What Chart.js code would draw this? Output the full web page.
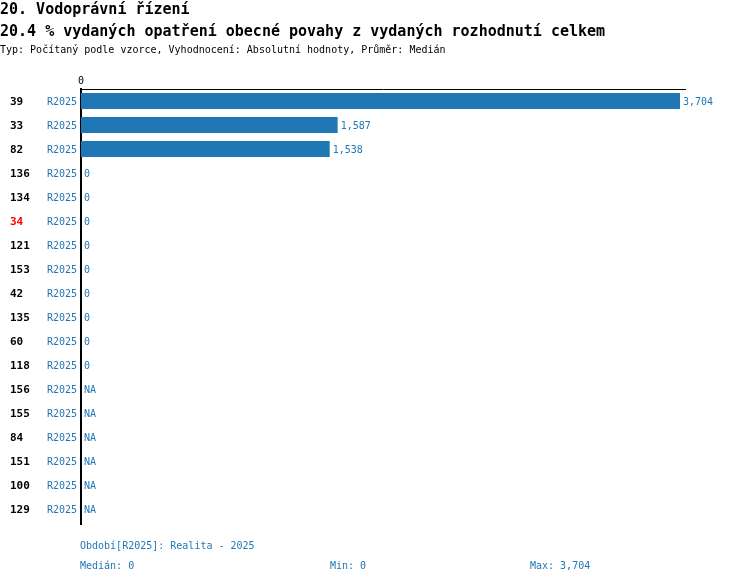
<!DOCTYPE html>
<html>
<head>
<meta charset="utf-8">
<script src="https://cdn.jsdelivr.net/npm/chart.js@4.4.1/dist/chart.umd.min.js"></script>
<style>
  body { margin: 0; background: #fff; font-family: "DejaVu Sans Mono", monospace; }
  #wrap { position: relative; width: 750px; height: 584px; overflow: hidden; }
  canvas { position: absolute; left: 0; top: 0; }
  .txt { position: absolute; white-space: pre; line-height: 16px; }
  .t1 { font-size: 15px; font-weight: bold; color: #000; }
  .t2 { font-size: 10px; color: #000; }
  .ft { font-size: 10px; color: #1f77b4; }
</style>
</head>
<body>
<div id="wrap">
  <canvas id="grafico" width="750" height="584"></canvas>
  <div class="txt t1" style="left:0;top:1px">20. Vodoprávní řízení</div>
  <div class="txt t1" style="left:0;top:23px">20.4 % vydaných opatření obecné povahy z vydaných rozhodnutí celkem</div>
  <div class="txt t2" style="left:0;top:42px">Typ: Počítaný podle vzorce, Vyhodnocení: Absolutní hodnoty, Průměr: Medián</div>
  <div class="txt ft" style="left:80px;top:538px">Období[R2025]: Realita - 2025</div>
  <div class="txt ft" style="left:80px;top:558px">Medián: 0</div>
  <div class="txt ft" style="left:330px;top:558px">Min: 0</div>
  <div class="txt ft" style="left:530px;top:558px">Max: 3,704</div>
</div>
<script>
// Datos del gráfico
const idsFila   = ['39', '33', '82', '136', '134', '34', '121', '153', '42', '135', '60', '118', '156', '155', '84', '151', '100', '129'];
const periodos  = ['R2025', 'R2025', 'R2025', 'R2025', 'R2025', 'R2025', 'R2025', 'R2025', 'R2025', 'R2025', 'R2025', 'R2025', 'R2025', 'R2025', 'R2025', 'R2025', 'R2025', 'R2025'];
const valores   = [3704, 1587, 1538, 0, 0, 0, 0, 0, 0, 0, 0, 0, null, null, null, null, null, null];
const idResaltado = '34';
const ticksX    = [0];
const maxX      = 3735;

const AZUL = '#1f77b4';
const FUENTE = '"DejaVu Sans Mono", monospace';

// Etiquetas de fila (id) y de valor al final de cada barra
const pluginEtiquetas = {
    id: 'etiquetas',
    afterDatasetsDraw(chart) {
        const ctx = chart.ctx;
        const meta = chart.getDatasetMeta(0);
        const escalaY = chart.scales.y;
        const area = chart.chartArea;
        ctx.save();

        // prolongar un poco el eje vertical hacia abajo
        ctx.strokeStyle = '#000';
        ctx.lineWidth = 2;
        ctx.beginPath();
        ctx.moveTo(area.left, area.bottom);
        ctx.lineTo(area.left, area.bottom + 4);
        ctx.stroke();

        ctx.textBaseline = 'middle';

        // ids de fila a la izquierda
        ctx.font = 'bold 11px ' + FUENTE;
        ctx.textAlign = 'left';
        idsFila.forEach((id, i) => {
            ctx.fillStyle = id === idResaltado ? '#ff0000' : '#000000';
            ctx.fillText(id, 10, escalaY.getPixelForValue(i) + 1);
        });

        // valores
        ctx.font = '10px ' + FUENTE;
        ctx.fillStyle = AZUL;
        meta.data.forEach((barra, i) => {
            const v = valores[i];
            const y = escalaY.getPixelForValue(i) + 1;
            if (v === null) {
                ctx.fillText('NA', chart.scales.x.getPixelForValue(0) + 3, y);
            } else {
                ctx.fillText(v.toLocaleString('en-US'), barra.x + 3, y);
            }
        });
        ctx.restore();
    }
};

const ctx = document.getElementById('grafico').getContext('2d');
new Chart(ctx, {
    type: 'bar',
    data: {
        labels: periodos,
        datasets: [{
            data: valores,
            backgroundColor: AZUL,
            borderWidth: 0,
            categoryPercentage: 1,
            barPercentage: 0.667
        }]
    },
    options: {
        indexAxis: 'y',
        responsive: false,
        animation: false,
        devicePixelRatio: 1,
        layout: { padding: { top: 70, right: 65, bottom: 63, left: 0 } },
        plugins: {
            legend: { display: false },
            tooltip: { enabled: false }
        },
        scales: {
            x: {
                position: 'top',
                min: 0,
                max: maxX,
                afterBuildTicks: s => { s.ticks = ticksX.map(v => ({ value: v })); },
                afterFit: s => { s.height = 19; },
                grid: { display: false, drawTicks: false },
                border: { display: true, color: '#000', width: 1 },
                ticks: { color: '#000', padding: 2, font: { family: FUENTE, size: 10 }, maxRotation: 0 }
            },
            y: {
                afterFit: s => { s.width = 81; },
                grid: { display: false, drawTicks: false },
                border: { display: true, color: '#000', width: 2 },
                ticks: { color: AZUL, padding: 4, labelOffset: 1, autoSkip: false, font: { family: FUENTE, size: 10 } }
            }
        }
    },
    plugins: [pluginEtiquetas]
});
</script>
</body>
</html>
